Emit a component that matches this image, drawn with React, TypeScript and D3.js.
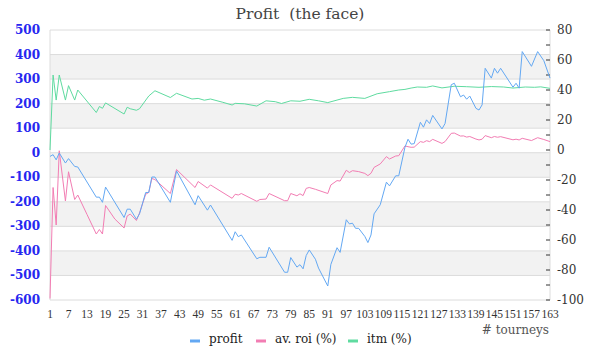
import React from "react";
import * as d3 from "d3";

// values: [tourney #, value]
const profit: [number, number][] = [
  [1, -15], [2, -8], [3, -29], [4, -1], [6, -42], [7, -24], [9, -56], [10, -58],
  [16, -181], [17, -181], [18, -202], [19, -140], [25, -264], [26, -230], [27, -230],
  [29, -271], [30, -249], [32, -162], [33, -162], [34, -99], [35, -99], [40, -202],
  [42, -74], [48, -212], [49, -175], [52, -234], [53, -213], [60, -357], [61, -322],
  [62, -342], [63, -335], [68, -432], [69, -426], [71, -426], [72, -385], [77, -487],
  [78, -487], [79, -427], [81, -466], [82, -456], [83, -473], [84, -419], [85, -396],
  [87, -434], [88, -470], [91, -543], [92, -455], [94, -387], [95, -406], [97, -273],
  [98, -290], [99, -287], [100, -308], [101, -308], [103, -341], [104, -366], [105, -335],
  [106, -249], [108, -212], [110, -120], [111, -135], [113, -94], [114, -94], [116, 22],
  [117, 55], [118, 35], [119, 37], [121, 124], [122, 104], [123, 134], [124, 119],
  [125, 152], [128, 97], [129, 119], [131, 277], [132, 283], [134, 228], [135, 235],
  [136, 218], [137, 231], [139, 181], [140, 174], [141, 195], [142, 344], [144, 304],
  [145, 344], [146, 324], [147, 344], [151, 267], [152, 283], [153, 263], [154, 412],
  [157, 352], [159, 412], [161, 375], [163, 304],
];

const avRoi: [number, number][] = [
  [1, -99], [2, -25], [3, -50], [4, -0.5], [6, -34], [7, -14.5], [9, -33], [10, -30],
  [13, -43], [16, -56], [17, -53], [18, -56], [19, -37], [22, -46], [25, -52], [26, -44],
  [27, -42.7], [29, -47], [30, -42], [32, -29.5], [33, -28.3], [34, -19], [35, -19.7],
  [40, -29], [42, -13], [48, -25], [49, -21], [52, -25.4], [53, -23.3], [60, -32.2],
  [61, -29.5], [62, -30], [63, -29], [68, -34.2], [69, -33], [71, -32.7], [72, -29],
  [77, -33.8], [78, -33.8], [79, -29], [81, -30.5], [82, -29.2], [83, -30.4], [84, -25.6],
  [85, -25], [87, -26.2], [91, -29], [92, -23.3], [94, -20.4], [95, -20.7], [97, -13.5],
  [98, -15], [99, -13.8], [101, -14.4], [103, -15.6], [104, -17.1], [105, -15.5],
  [106, -11.6], [108, -9.3], [110, -4.4], [111, -6], [113, -4], [114, -3.8], [116, 2.7],
  [117, 2.2], [118, 1.8], [119, 1.9], [121, 5.6], [122, 5.1], [123, 6.2], [124, 5.6],
  [125, 7.1], [128, 4.4], [129, 5.6], [131, 11.1], [132, 11.3], [134, 9.3], [135, 9.4],
  [136, 8.6], [137, 9], [139, 7.3], [140, 6.7], [141, 7.2], [142, 9.6], [144, 8.2],
  [145, 9], [146, 8.5], [147, 8.9], [151, 6.8], [152, 7.2], [153, 6.7], [154, 7.8],
  [157, 6.3], [159, 8.2], [161, 7], [163, 5.6],
];

const itm: [number, number][] = [
  [1, 0], [2, 50], [3, 33.3], [4, 50], [6, 33.3], [7, 42.9], [9, 33.3], [10, 40],
  [16, 25], [17, 29], [18, 27.8], [19, 31.4], [25, 24], [26, 28.5], [27, 27.5],
  [29, 26.5], [30, 27.5], [33, 36], [35, 39.5], [40, 35], [42, 37.8], [47, 34],
  [49, 34.4], [51, 33.2], [53, 34], [57, 31.8], [60, 30], [61, 31.1], [64, 30.8],
  [68, 29.3], [71, 32.8], [74, 32.2], [76, 31], [79, 32.8], [82, 32.5], [85, 33.8],
  [88, 32.8], [91, 31.6], [96, 34.4], [99, 35.1], [103, 34.4], [107, 37.5], [111, 38.9],
  [114, 40], [116, 40.4], [118, 41.3], [120, 42], [123, 41.8], [125, 42.7], [128, 41.4],
  [132, 42.5], [136, 42.2], [140, 41.8], [144, 42.3], [148, 42], [151, 41.3], [155, 42],
  [158, 41.8], [160, 42.1], [163, 41.1],
];

const xTicks = [1, 7, 13, 19, 25, 31, 37, 43, 49, 55, 61, 67, 73, 79, 85, 91, 97, 103,
  109, 115, 121, 127, 133, 139, 145, 151, 157, 163];
const leftTicks = [-600, -500, -400, -300, -200, -100, 0, 100, 200, 300, 400, 500];
const rightTicks = [-100, -80, -60, -40, -20, 0, 20, 40, 60, 80];
const rightMinor = [-90, -70, -50, -30, -10, 10, 30, 50, 70];

const legend = [
  { name: "profit", color: "#63a8f3", x: 190 },
  { name: "av. roi (%)", color: "#f27db3", x: 256 },
  { name: "itm (%)", color: "#5fdba0", x: 348 },
];

const W = 600, H = 360;
const L = 50, R = 550, T = 30, B = 300;
const serif = "'DejaVu Serif', Georgia, serif";
const narrow = "'Liberation Serif', 'Times New Roman', serif";

export default function App() {
  const x = d3.scaleLinear().domain([1, 163]).range([L, R]);
  const yL = d3.scaleLinear().domain([-600, 500]).range([B, T]);
  const yR = d3.scaleLinear().domain([-100, 80]).range([B, T]);

  const lineL = d3.line<[number, number]>().x(d => x(d[0])).y(d => yL(d[1]));
  const lineR = d3.line<[number, number]>().x(d => x(d[0])).y(d => yR(d[1]));

  // shaded bands every other 100
  const bands = leftTicks.filter(v => v < 500 && ((v + 600) / 100) % 2 === 1);

  return (
    <svg width={W} height={H} style={{ position: "absolute", left: 0, top: 0, background: "#fff" }}>
      {bands.map(v => (
        <rect key={v} x={L} y={yL(v + 100)} width={R - L} height={yL(v) - yL(v + 100)} fill="#f2f2f2" />
      ))}
      {leftTicks.map(v => (
        <line key={v} x1={L} x2={R} y1={yL(v)} y2={yL(v)} stroke="#dcdcdc" strokeWidth={1} />
      ))}
      <line x1={L} x2={L} y1={T} y2={B} stroke="#dcdcdc" />
      <line x1={R} x2={R} y1={T} y2={B} stroke="#dcdcdc" />

      <text x={300} y={19} textAnchor="middle" fontFamily={serif} fontSize={15.5} fill="#444"
        style={{ whiteSpace: "pre" }}>
        {"Profit  (the face)"}
      </text>

      {leftTicks.map(v => (
        <text key={v} x={40} y={yL(v) + 4} textAnchor="end" fontFamily={serif} fontSize={12}
          fontWeight="bold" fill="#2727f0">{v}</text>
      ))}

      {rightMinor.concat(rightTicks).map(v => (
        <line key={"t" + v} x1={R - 4} x2={R} y1={yR(v)} y2={yR(v)} stroke="#333" />
      ))}
      {rightTicks.map(v => (
        <text key={v} x={557} y={yR(v) + 4} fontFamily={serif} fontSize={12} fill="#333">{v}</text>
      ))}

      {xTicks.map(v => (
        <text key={v} x={x(v)} y={318} textAnchor="middle" fontFamily={narrow} fontSize={11.5} fill="#333">{v}</text>
      ))}
      <text x={549} y={334} textAnchor="end" fontFamily={serif} fontSize={12} fill="#555"># tourneys</text>

      <path d={lineR(itm) || ""} fill="none" stroke="#5fdba0" strokeWidth={1} />
      <path d={lineR(avRoi) || ""} fill="none" stroke="#f27db3" strokeWidth={1} />
      <path d={lineL(profit) || ""} fill="none" stroke="#63a8f3" strokeWidth={1} />

      {legend.map(l => (
        <g key={l.name}>
          <line x1={l.x} x2={l.x + 10} y1={341} y2={341} stroke={l.color} strokeWidth={3} />
          <text x={l.x + 19} y={343} fontFamily={serif} fontSize={12} fill="#222">{l.name}</text>
        </g>
      ))}
    </svg>
  );
}
